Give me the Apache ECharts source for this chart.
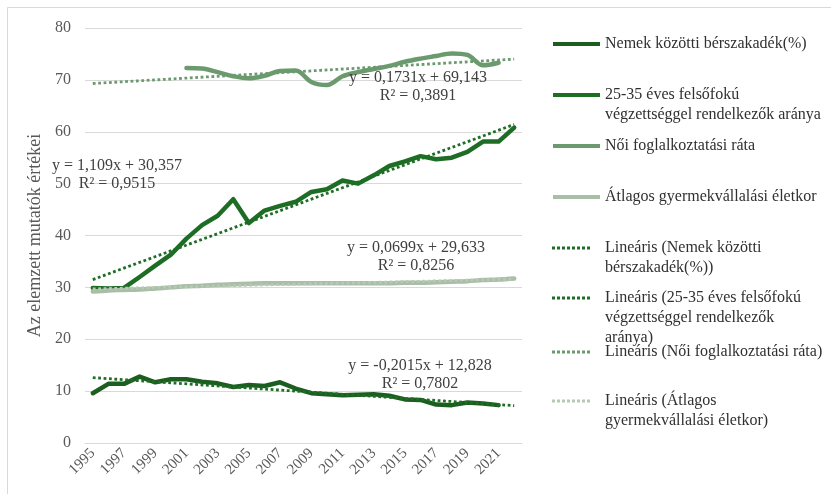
<!DOCTYPE html>
<html>
<head>
<meta charset="utf-8">
<script src="https://cdn.jsdelivr.net/npm/echarts@6/dist/echarts.min.js"></script>
<style>
  html, body { margin: 0; padding: 0; background: #fff; }
  #chart { width: 831px; height: 494px; }
</style>
</head>
<body>
<div id="chart"></div>
<script>
// categories
const years = ["1995", "1996", "1997", "1998", "1999", "2000", "2001", "2002", "2003", "2004",
  "2005", "2006", "2007", "2008", "2009", "2010", "2011", "2012", "2013", "2014",
  "2015", "2016", "2017", "2018", "2019", "2020", "2021", "2022"];

// series values
const wageGap = [9.6, 11.4, 11.4, 12.8, 11.7, 12.3, 12.3, 11.8, 11.5, 10.8,
  11.2, 11.0, 11.7, 10.5, 9.6, 9.4, 9.2, 9.3, 9.4, 9.1,
  8.4, 8.3, 7.4, 7.3, 7.8, 7.6, 7.3, null];
const tertiary = [29.9, 29.8, 29.9, 32.0, 34.2, 36.3, 39.4, 42.0, 43.8, 47.0,
  42.4, 44.8, 45.7, 46.5, 48.4, 48.9, 50.6, 50.0, 51.6, 53.4,
  54.3, 55.3, 54.7, 55.0, 56.1, 58.1, 58.1, 60.8];
const femaleEmployment = [null, null, null, null, null, null, 72.3, 72.2, 71.5, 70.7,
  70.3, 70.8, 71.7, 71.8, 69.6, 69.0, 70.7, 71.5, 72.1, 72.7,
  73.5, 74.1, 74.6, 75.1, 74.8, 72.8, 73.3, null];
const motherAge = [29.2, 29.4, 29.5, 29.6, 29.8, 30.0, 30.2, 30.3, 30.5, 30.6,
  30.7, 30.8, 30.8, 30.8, 30.8, 30.8, 30.8, 30.8, 30.8, 30.8,
  30.9, 30.9, 31.0, 31.1, 31.2, 31.4, 31.5, 31.7];

// linear trend lines: value at first and last category
const trendStart = [12.6, 31.5, 69.3, 29.7];
const trendEnd = [7.2, 61.4, 74.0, 31.6];

const yTicks = [0, 10, 20, 30, 40, 50, 60, 70, 80];

const seriesNames = [
  "Nemek közötti bérszakadék(%)",
  "25-35 éves felsőfokú végzettséggel rendelkezők aránya",
  "Női foglalkoztatási ráta",
  "Átlagos gyermekvállalási életkor"
];
const trendNames = seriesNames.map(n => "Lineáris (" + n + ")");

const equations = [
  "y = -0,2015x + 12,828\nR² = 0,7802",
  "y = 1,109x + 30,357\nR² = 0,9515",
  "y = 0,1731x + 69,143\nR² = 0,3891",
  "y = 0,0699x + 29,633\nR² = 0,8256"
];

const lineColors = ["#1c5e20", "#1e6d25", "#6b9a6f", "#a9bea7"];
const trendColors = ["#1e6d25", "#1e6d25", "#6b9a6f", "#b7c9b5"];
const FONT = "Liberation Serif";
const LH = 20;

const values = [wageGap, tertiary, femaleEmployment, motherAge];

const series = [];
values.forEach((v, i) => {
  series.push({
    name: seriesNames[i],
    type: "line",
    data: v,
    color: lineColors[i],
    symbol: "none",
    smooth: i >= 2 ? 0.35 : false,
    connectNulls: false,
    lineStyle: { width: 4.5, color: lineColors[i], cap: "round", join: "round" },
    z: 2
  });
});
trendNames.forEach((n, i) => {
  series.push({
    name: n,
    type: "line",
    data: [[years[0], trendStart[i]], [years[years.length - 1], trendEnd[i]]],
    color: trendColors[i],
    symbol: "none",
    lineStyle: { width: 2.8, color: trendColors[i], type: [2.8, 2.6] },
    z: 3
  });
});

const legendLabels = [
  "Nemek közötti bérszakadék(%)",
  "25-35 éves felsőfokú\nvégzettséggel rendelkezők aránya",
  "Női foglalkoztatási ráta",
  "Átlagos gyermekvállalási életkor",
  "Lineáris (Nemek közötti\nbérszakadék(%))",
  "Lineáris (25-35 éves felsőfokú\nvégzettséggel rendelkezők\naránya)",
  "Lineáris (Női foglalkoztatási ráta)",
  "Lineáris (Átlagos\ngyermekvállalási életkor)"
];
const legendY = [44, 95, 146, 197, 248, 298, 352, 401];
const allNames = seriesNames.concat(trendNames);

const solidIcon = "path://M0,0h48v4h-48z";
let dots = "";
for (let k = 0; k < 8; k++) dots += "M" + (k * 5) + ",0h3v3h-3z ";
const dotIcon = "path://" + dots;

const legends = allNames.map((name, i) => {
  const label = legendLabels[i];
  const k = label.split("\n").length;
  const n = 2 * k - 1;
  const dotted = i >= 4;
  return {
    data: [name],
    orient: "vertical",
    left: dotted ? 552 : 553,
    top: legendY[i] - (n * LH) / 2,
    padding: 0,
    itemWidth: dotted ? 38 : 47,
    itemHeight: dotted ? 3 : 4,
    icon: dotted ? dotIcon : solidIcon,
    itemStyle: { borderWidth: 0 },
    selectedMode: false,
    textStyle: {
      fontFamily: FONT,
      fontSize: 16,
      color: "#303030",
      lineHeight: LH,
      padding: dotted ? [0, 0, 0, 10] : 0
    },
    formatter: () => "\u00a0\n".repeat(k - 1) + label
  };
});

const eqPos = [[420, 375], [117, 175], [418, 87], [416, 257]];
const graphics = [{
  type: "rect",
  shape: { x: 7.5, y: 7.5, width: 840, height: 500 },
  style: { fill: "none", stroke: "#d9d9d9", lineWidth: 1 },
  silent: true
}];
equations.forEach((t, i) => {
  graphics.push({
    type: "text",
    x: eqPos[i][0],
    y: eqPos[i][1],
    z: 10,
    style: {
      text: t,
      font: "16px '" + FONT + "'",
      fill: "#404040",
      align: "center",
      verticalAlign: "middle",
      lineHeight: 18
    }
  });
});

const chart = echarts.init(document.getElementById("chart"), null, { renderer: "canvas" });
chart.setOption({
  animation: false,
  backgroundColor: "#fff",
  grid: { left: 85, right: 309, top: 28, bottom: 51, containLabel: false },
  xAxis: {
    type: "category",
    data: years,
    boundaryGap: true,
    axisLine: { lineStyle: { color: "#d9d9d9" } },
    axisTick: { show: false },
    axisLabel: {
      interval: 1,
      rotate: 45,
      margin: 8,
      fontFamily: FONT,
      fontSize: 15,
      color: "#595959"
    }
  },
  yAxis: {
    type: "value",
    min: yTicks[0],
    max: yTicks[yTicks.length - 1],
    interval: 10,
    name: "Az elemzett mutatók értékei",
    nameLocation: "middle",
    nameGap: 37,
    nameTextStyle: { fontFamily: FONT, fontSize: 18, color: "#595959" },
    axisLine: { show: false },
    axisTick: { show: false },
    splitLine: { lineStyle: { color: "#d9d9d9", width: 1 } },
    axisLabel: { fontFamily: FONT, fontSize: 16, color: "#595959", margin: 14 }
  },
  legend: legends,
  graphic: graphics,
  series: series
});
</script>
</body>
</html>
